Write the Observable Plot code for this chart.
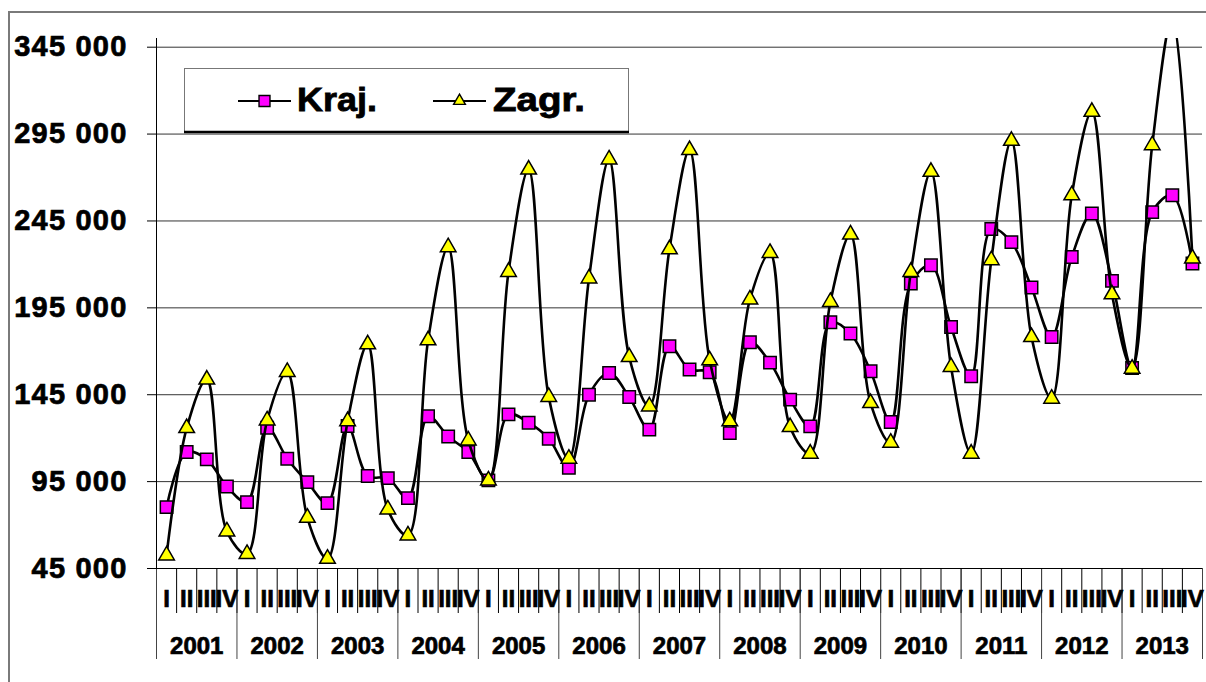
<!DOCTYPE html>
<html><head><meta charset="utf-8">
<script src="https://cdn.jsdelivr.net/npm/d3@7"></script>
<script src="https://cdn.jsdelivr.net/npm/@observablehq/plot@0.6"></script>
<style>
body{margin:0;background:#fff;}
#wrap{position:relative;width:1206px;height:682px;overflow:hidden;font-family:"Liberation Sans",Arial,sans-serif;}
#frame{position:absolute;left:8px;top:11px;width:1300px;height:800px;border-left:2px solid #7a7a7a;border-top:2px solid #7a7a7a;}
#chart{position:absolute;left:0;top:0;}
#legend{position:absolute;left:0;top:0;}
g[aria-label="y-axis tick label"] text{letter-spacing:1.2px;}
g[aria-label$="tick label"] text{stroke:#000;stroke-width:0.7px;}
#legend text{stroke:#000;stroke-width:0.8px;}
</style>
</head><body>
<div id="wrap"><div id="frame"></div><div id="chart"></div><svg id="legend" width="1206" height="682"></svg></div>
<script>
const years = [2001,2002,2003,2004,2005,2006,2007,2008,2009,2010,2011,2012,2013];
const quarters = ["I","II","III","IV"];
const seriesNames = ["Kraj.","Zagr."];
const kraj = [
  80300,112000,107800,92200,
  83200,126000,108200,94700,
  82600,127000,98200,97000,
  85500,132600,121000,112000,
  95700,133700,128900,119700,
  103000,145000,157500,143700,
  124900,172900,159500,157900,
  122900,175200,163500,142200,
  126800,186700,180200,158500,
  129300,209000,219500,184000,
  155600,240400,232800,206700,
  178200,224300,249300,210500,
  160400,250100,259800,220500
];
const zagr = [
  52500,125800,153700,66300,
  53400,130200,158100,74200,
  50600,129800,174000,79000,
  64000,176300,229900,118700,
  95700,215700,274600,143700,
  108200,211900,280400,166700,
  138300,228700,285800,164800,
  129700,199800,226600,126400,
  111100,198400,237200,140200,
  117400,215700,273300,161000,
  111100,222400,291100,178200,
  142700,259800,307800,202800,
  160000,288600,362000,223400
];
const yTicks = [45000,95000,145000,195000,245000,295000,345000];

const n = years.length * quarters.length;
const rowsOf = (vals) => vals.map((v, i) => ({x: i + 0.5, v}));
const kRows = rowsOf(kraj), zRows = rowsOf(zagr);
const qBounds = d3.range(0, n + 1);
const yBounds = d3.range(0, n + 1, 4);
const qCenters = d3.range(0, n).map(i => i + 0.5);
const yCenters = years.map((y, k) => k * 4 + 2);
const fmt = d => d3.format(",")(d).replace(/,/g, " ");

const chart = Plot.plot({
  width: 1206, height: 682,
  marginLeft: 156, marginRight: 4, marginTop: 38, marginBottom: 114,
  x: {domain: [0, n], label: null},
  y: {domain: [45000, 350000], label: null},
  style: {fontFamily: "'Liberation Sans', Arial, sans-serif", color: "black", background: "transparent", overflow: "visible"},
  marks: [
    Plot.gridY(yTicks, {stroke: "#000", strokeOpacity: 0.8, strokeWidth: 1}),
    Plot.axisY(yTicks, {tickSize: 9, tickPadding: 20, tickFormat: fmt, fontSize: 29, fontWeight: "bold", label: null, stroke: "#000"}),
    Plot.axisX(qBounds, {tickSize: 45, tickFormat: () => "", label: null, stroke: "#000"}),
    Plot.axisX(yBounds, {tickSize: 91, tickFormat: () => "", label: null, stroke: "#444"}),
    Plot.axisX(qCenters, {tickSize: 0, tickPadding: 21, tickFormat: d => quarters[Math.floor(d) % 4], fontSize: 24, fontWeight: "bold", label: null}),
    Plot.axisX(yCenters, {tickSize: 0, tickPadding: 68, tickFormat: d => String(years[Math.floor(d / 4)]), fontSize: 24, fontWeight: "bold", label: null}),
    Plot.ruleX([0], {stroke: "#000"}),
    Plot.ruleY([45000], {stroke: "#000", strokeWidth: 1.2}),
    Plot.line(kRows, {x: "x", y: "v", curve: "catmull-rom", stroke: "#000", strokeWidth: 2.6, clip: true}),
    Plot.dot(kRows, {x: "x", y: "v", symbol: "square", r: 7, fill: "#ff00ff", stroke: "#000", strokeWidth: 1.5, clip: true}),
    Plot.line(zRows, {x: "x", y: "v", curve: "catmull-rom", stroke: "#000", strokeWidth: 2.6, clip: true}),
    Plot.dot(zRows, {x: "x", y: "v", symbol: "triangle", r: 5.8, fill: "#ffff00", stroke: "#000", strokeWidth: 1.5, clip: true})
  ]
});
document.getElementById("chart").appendChild(chart);

// legend
const lg = d3.select("#legend");
lg.append("rect").attr("x", 184.5).attr("y", 68.5).attr("width", 444).attr("height", 63)
  .attr("fill", "#fff").attr("stroke", "#777").attr("stroke-width", 1);
lg.append("line").attr("x1", 184).attr("x2", 629).attr("y1", 132).attr("y2", 132).attr("stroke", "#000").attr("stroke-width", 2.5);
const items = [
  {name: seriesNames[0], lx: 238, tx: 297, tl: 80, sym: d3.symbolSquare, size: 120, fill: "#ff00ff"},
  {name: seriesNames[1], lx: 433, tx: 493, tl: 92, sym: d3.symbolTriangle, size: 60, fill: "#ffff00"}
];
for (const it of items) {
  lg.append("line").attr("x1", it.lx).attr("x2", it.lx + 53).attr("y1", 101).attr("y2", 101).attr("stroke", "#000").attr("stroke-width", 2);
  lg.append("path").attr("d", d3.symbol(it.sym, it.size)()).attr("transform", `translate(${it.lx + 26.5},101)`)
    .attr("fill", it.fill).attr("stroke", "#000").attr("stroke-width", 1.4);
  lg.append("text").attr("x", it.tx).attr("y", 111).text(it.name)
    .attr("font-family", "'Liberation Sans', Arial, sans-serif").attr("font-weight", "bold").attr("font-size", 33)
    .attr("textLength", it.tl).attr("lengthAdjust", "spacingAndGlyphs");
}
</script>
</body></html>
